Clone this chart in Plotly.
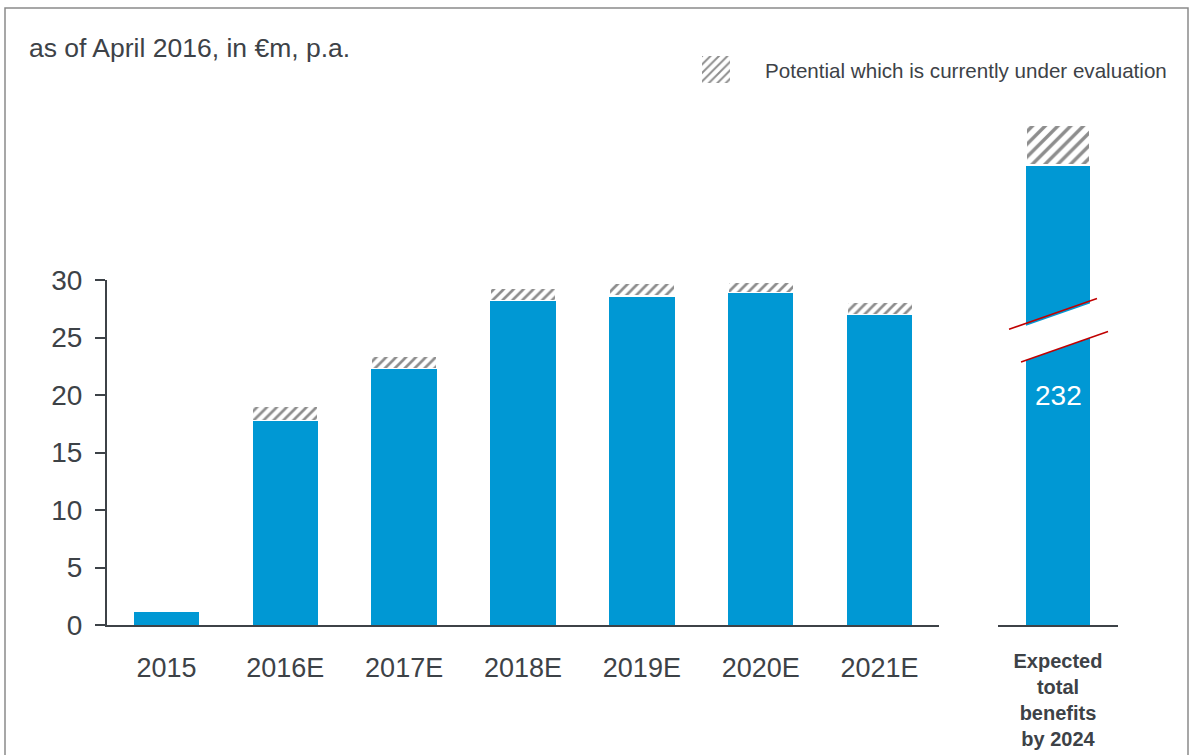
import plotly.graph_objects as go

# ---- data -------------------------------------------------------------
years = ["2015", "2016E", "2017E", "2018E", "2019E", "2020E", "2021E"]
benefits = [1.1, 17.8, 22.3, 28.2, 28.6, 28.9, 27.0]
potential = [None, 1.2, 1.1, 1.1, 1.1, 0.9, 1.1]

total_label = "<b>Expected<br>total<br>benefits<br>by 2024</b>"
total_benefits = [232]
total_potential = [20]

y_ticks = [0, 5, 10, 15, 20, 25, 30]

title_text = "as of April 2016, in €m, p.a."
legend_text = "Potential which is currently under evaluation"

# ---- styling ----------------------------------------------------------
W, H = 1194, 755
BLUE = "#0098D4"
TEXT = "#3d4247"
AXIS = "#3d4247"
FONT = "Arial, Liberation Sans, sans-serif"


def px_x(p):
    return p / W


def px_y(p):
    return (H - p) / H


hatch = dict(shape="/", fgcolor="#1c1c1c", bgcolor="white", size=7, solidity=0.38)

fig = go.Figure()

# yearly bars
fig.add_trace(go.Bar(x=years, y=benefits, marker=dict(color=BLUE, line=dict(width=0)),
                     width=0.55, xaxis="x", yaxis="y", showlegend=False, hoverinfo="skip"))
fig.add_trace(go.Bar(x=years, y=potential,
                     marker=dict(color="white", pattern=hatch, line=dict(color="white", width=1.5)),
                     width=0.55, xaxis="x", yaxis="y", showlegend=False, hoverinfo="skip"))

# total bar (own scale, broken)
fig.add_trace(go.Bar(x=[total_label], y=total_benefits, marker=dict(color=BLUE, line=dict(width=0)),
                     width=0.53, xaxis="x2", yaxis="y2", showlegend=False, hoverinfo="skip"))
fig.add_trace(go.Bar(x=[total_label], y=total_potential,
                     marker=dict(color="white", pattern=dict(hatch, size=9),
                                 line=dict(color="white", width=1.5)),
                     width=0.53, xaxis="x2", yaxis="y2", showlegend=False, hoverinfo="skip"))

# legend key swatch
fig.add_trace(go.Bar(x=[0], y=[1], marker=dict(color="white", pattern=dict(hatch, size=6, solidity=0.33),
                                                line=dict(width=0)),
                     width=1, xaxis="x3", yaxis="y3", showlegend=False, hoverinfo="skip"))

# value label inside the total bar
fig.add_annotation(x=total_label, y=total_benefits[0] / 2, xref="x2", yref="y2",
                   text=str(total_benefits[0]), showarrow=False,
                   font=dict(family=FONT, size=28, color="white"))

# axis break on the total bar
slope = 21.2
top_a, bot_a = 157.8, 139.2


def brk(x0, x1, y0):
    return (x0, y0 + slope * x0, x1, y0 + slope * x1)


xa, ya, xb, yb = brk(-0.36, 0.36, top_a - 1.2)
xc, yc, xd, yd = brk(-0.36, 0.36, bot_a)
fig.add_shape(type="path", xref="x2", yref="y2",
              path=f"M{xa},{ya} L{xb},{yb} L{xd},{yd} L{xc},{yc} Z",
              fillcolor="white", line=dict(width=0), layer="above")
for x0, x1, y0 in [(-0.408, 0.325, top_a), (-0.308, 0.417, bot_a)]:
    a, b, c, d = brk(x0, x1, y0)
    fig.add_shape(type="line", xref="x2", yref="y2", x0=a, y0=b, x1=c, y1=d,
                  line=dict(color="#c00000", width=1.5), layer="above")

# title and legend text
fig.add_annotation(x=px_x(27), y=px_y(48), xref="paper", yref="paper", xanchor="left",
                   yanchor="middle", text=title_text, showarrow=False,
                   font=dict(family=FONT, size=26.5, color=TEXT))
fig.add_annotation(x=px_x(763), y=px_y(70), xref="paper", yref="paper", xanchor="left",
                   yanchor="middle", text=legend_text, showarrow=False,
                   font=dict(family=FONT, size=20.6, color=TEXT))

# outer frame
fig.add_shape(type="rect", xref="paper", yref="paper", x0=px_x(5), x1=px_x(1188),
              y0=px_y(762), y1=px_y(8), line=dict(color="#8a8a8a", width=1.5), layer="below")

fig.update_layout(
    width=W, height=H,
    margin=dict(l=0, r=0, t=0, b=0, autoexpand=False),
    paper_bgcolor="white", plot_bgcolor="rgba(0,0,0,0)",
    barmode="stack",
    font=dict(family=FONT, color=TEXT),
    xaxis=dict(domain=[px_x(107), px_x(939)], type="category", range=[-0.5, 6.5],
               showline=True, linecolor=AXIS, linewidth=2, ticks="", showgrid=False,
               tickfont=dict(size=27, color=TEXT), ticklabelstandoff=18, anchor="y",
               automargin=False),
    yaxis=dict(domain=[px_y(625), px_y(280)], range=[0, 30], tickvals=y_ticks,
               showline=True, linecolor=AXIS, linewidth=2, ticks="outside", ticklen=10,
               tickwidth=2, tickcolor=AXIS, showgrid=False, zeroline=False,
               tickfont=dict(size=28, color=TEXT), ticklabelstandoff=7, anchor="x",
               automargin=False),
    xaxis2=dict(domain=[px_x(998), px_x(1118)], type="category", range=[-0.5, 0.5],
                showline=True, linecolor=AXIS, linewidth=2, ticks="", showgrid=False,
                tickfont=dict(size=20, color=TEXT), ticklabelstandoff=17, anchor="y2",
                automargin=False),
    yaxis2=dict(domain=[px_y(625), px_y(109.5)], range=[0, 260], visible=False, anchor="x2",
                automargin=False),
    xaxis3=dict(domain=[px_x(702), px_x(730)], range=[-0.5, 0.5], visible=False, anchor="y3",
                automargin=False),
    yaxis3=dict(domain=[px_y(83), px_y(56)], range=[0, 1], visible=False, anchor="x3",
                automargin=False),
)

fig.write_html("out.html")
